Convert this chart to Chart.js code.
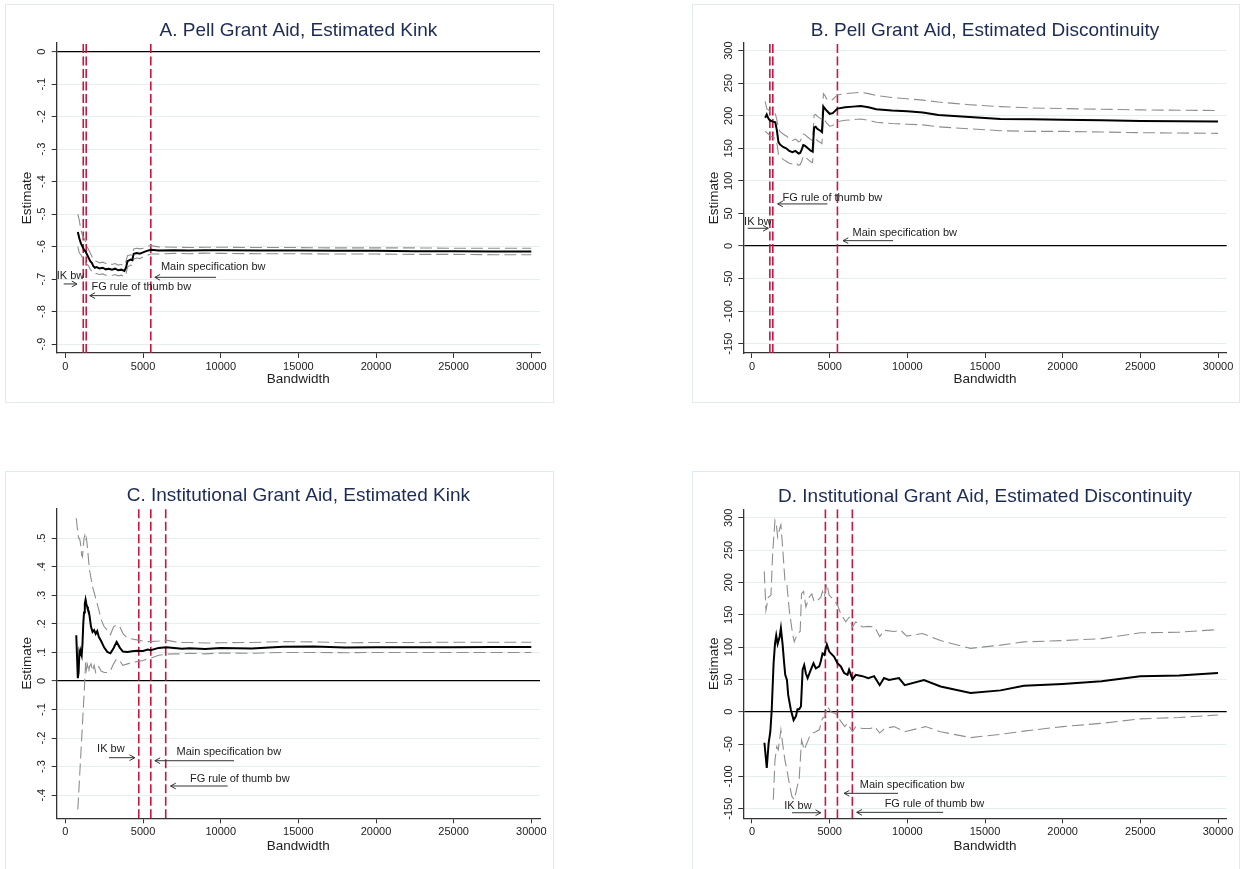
<!DOCTYPE html>
<html><head><meta charset="utf-8">
<script src="https://cdn.jsdelivr.net/npm/chart.js@4.4.1/dist/chart.umd.min.js"></script>
<style>
html,body{margin:0;padding:0;background:#fff;overflow:hidden;width:1242px;height:869px;}
.panel{position:absolute;box-sizing:border-box;border:1px solid #e2eaee;}
.panel canvas{position:absolute;left:-1px;top:-1px;}
</style></head><body>
<div class="panel" style="left:5px;top:4px;width:549px;height:399px"><canvas id="cA" width="549" height="399"></canvas></div>
<div class="panel" style="left:692px;top:4px;width:548px;height:399px"><canvas id="cB" width="548" height="399"></canvas></div>
<div class="panel" style="left:5px;top:471px;width:549px;height:399px"><canvas id="cC" width="549" height="399"></canvas></div>
<div class="panel" style="left:692px;top:471px;width:548px;height:399px"><canvas id="cD" width="548" height="399"></canvas></div>
<script>
// ---------- shared ----------
const xTicks = [0, 5000, 10000, 15000, 20000, 25000, 30000];
const noteLabels = ['IK bw', 'FG rule of thumb bw', 'Main specification bw'];

// ---------- Panel A: Pell Grant Aid, Estimated Kink ----------
const aTitle = 'A. Pell Grant Aid, Estimated Kink';
const aBw  = [800,900,1000,1100,1200,1300,1400,1500,1600,1700,1800,1900,2000,2200,2400,2600,2800,3000,3200,3400,3600,3800,3900,4000,4200,4300,4400,4600,4800,5000,5200,5500,6000,7000,8000,9000,10000,12500,15000,17500,20000,22500,25000,27500,30000];
const aEst = [-0.555,-0.575,-0.59,-0.6,-0.61,-0.615,-0.625,-0.635,-0.645,-0.65,-0.66,-0.665,-0.663,-0.667,-0.665,-0.67,-0.668,-0.671,-0.668,-0.673,-0.671,-0.675,-0.665,-0.645,-0.64,-0.642,-0.622,-0.62,-0.622,-0.618,-0.614,-0.61,-0.612,-0.611,-0.612,-0.611,-0.611,-0.612,-0.612,-0.613,-0.613,-0.614,-0.614,-0.615,-0.615];
const aHi  = [-0.5,-0.52,-0.55,-0.565,-0.575,-0.585,-0.6,-0.61,-0.62,-0.63,-0.64,-0.645,-0.645,-0.65,-0.648,-0.652,-0.65,-0.655,-0.652,-0.657,-0.655,-0.658,-0.645,-0.628,-0.625,-0.627,-0.607,-0.605,-0.607,-0.605,-0.6,-0.597,-0.601,-0.602,-0.603,-0.602,-0.602,-0.603,-0.603,-0.604,-0.604,-0.604,-0.605,-0.605,-0.605];
const aLo  = [-0.6,-0.62,-0.625,-0.635,-0.645,-0.648,-0.655,-0.66,-0.67,-0.675,-0.68,-0.685,-0.683,-0.686,-0.684,-0.688,-0.686,-0.689,-0.686,-0.69,-0.688,-0.693,-0.685,-0.663,-0.657,-0.659,-0.638,-0.635,-0.637,-0.632,-0.628,-0.623,-0.623,-0.621,-0.622,-0.62,-0.621,-0.622,-0.622,-0.623,-0.623,-0.624,-0.624,-0.625,-0.625];
const aLines = [1150, 1340, 5500];              // IK, FG, main bandwidths
const aYTicks = [0,-0.1,-0.2,-0.3,-0.4,-0.5,-0.6,-0.7,-0.8,-0.9];
const aYLabels = ['0','-.1','-.2','-.3','-.4','-.5','-.6','-.7','-.8','-.9'];
const aNoteText = [[-560,-0.691],[1680,-0.7235],[6150,-0.664]];
const aArrowFrom = [[-110,-0.715],[4210,-0.751],[9700,-0.6946]];
const aArrowTo   = [[750,-0.715],[1570,-0.751],[5760,-0.6946]];

// ---------- Panel B: Pell Grant Aid, Estimated Discontinuity ----------
const bTitle = 'B. Pell Grant Aid, Estimated Discontinuity';
const bBw  = [850,950,1050,1150,1250,1350,1500,1600,1700,1800,2000,2200,2400,2600,2800,3000,3100,3200,3300,3400,3600,3800,3900,4000,4100,4200,4400,4500,4600,4700,4800,5000,5200,5500,6000,6500,7000,7500,8000,9000,10000,11000,12000,14000,16000,18000,20000,22500,25000,27500,30000];
const bEst = [197,202,196,193,192,191,190,178,160,156,152,150,146,144,146,142,143,148,155,154,150,146,145,182,183,180,177,175,214,211,208,203,204,211,213,214,215,213,210,208,207,205,201,198,195,194.5,194,193,192,191.5,191];
const bHi  = [222,211,209,207,206,205,203,194,180,176,172,169,165,162,164,160,161,166,172,171,167,163,162,201,202,199,196,194,234,231,226,223,225,232,234,235,236,234,231,228,226,224,221,217,214,212,211,210,209,208.5,208];
const bLo  = [176,174,172,170,168,167,165,158,141,137,133,130,127,126,128,124,125,130,138,137,133,129,128,164,165,162,159,157,195,192,189,184,185,191,193,194,195,193,190,188,187,186,183,180,177,176,176,175,174,173.5,173];
const bLines = [1150, 1340, 5500];
const bYTicks = [300,250,200,150,100,50,0,-50,-100,-150];
const bYLabels = ['300','250','200','150','100','50','0','-50','-100','-150'];
const bNoteText = [[-510,37.4],[1970,73.4],[6470,19.5]];
const bArrowFrom = [[-280,27.2],[4860,64.6],[9080,8.2]];
const bArrowTo   = [[1050,27.2],[1650,64.6],[5860,8.2]];

// ---------- Panel C: Institutional Grant Aid, Estimated Kink ----------
const cTitle = 'C. Institutional Grant Aid, Estimated Kink';
const cBw  = [700,800,850,900,950,1000,1050,1100,1150,1200,1250,1300,1350,1400,1450,1500,1550,1650,1750,1850,1950,2050,2150,2300,2500,2700,2900,3100,3300,3500,3700,4000,4300,4600,5000,5300,5500,6000,6500,7000,7500,8000,9000,10000,12000,14000,16000,18000,20000,22500,25000,27500,30000];
const cEst = [0.16,0.01,0.03,0.1,0.09,0.1,0.09,0.13,0.2,0.24,0.27,0.285,0.27,0.26,0.25,0.245,0.23,0.19,0.172,0.178,0.165,0.175,0.155,0.14,0.117,0.102,0.097,0.115,0.137,0.117,0.103,0.102,0.104,0.106,0.105,0.11,0.108,0.116,0.118,0.116,0.113,0.115,0.112,0.116,0.114,0.12,0.121,0.117,0.118,0.118,0.118,0.119,0.119];
const cHi  = [0.57,0.52,0.5,0.5,0.49,0.47,0.44,0.435,0.47,0.5,0.51,0.49,0.5,0.48,0.45,0.42,0.39,0.36,0.33,0.31,0.29,0.27,0.25,0.215,0.19,0.178,0.162,0.19,0.196,0.19,0.167,0.15,0.147,0.144,0.14,0.138,0.138,0.14,0.143,0.138,0.135,0.135,0.133,0.134,0.135,0.138,0.137,0.134,0.135,0.135,0.136,0.136,0.136];
const cLo  = [null,-0.45,null,null,null,null,null,null,null,null,0.0,0.065,0.04,0.06,0.05,0.03,0.05,0.06,0.035,0.055,0.03,0.04,0.05,0.035,0.03,0.03,0.035,0.06,0.078,0.07,0.055,0.06,0.065,0.068,0.072,0.078,0.08,0.09,0.094,0.095,0.095,0.097,0.095,0.098,0.097,0.1,0.1,0.099,0.1,0.1,0.1,0.1,0.1];
const cLines = [4725, 5500, 6460];
const cYTicks = [0.5,0.4,0.3,0.2,0.1,0,-0.1,-0.2,-0.3,-0.4];
const cYLabels = ['.5','.4','.3','.2','.1','0','-.1','-.2','-.3','-.4'];
const cNoteText = [[2040,-0.2393],[8020,-0.3434],[7160,-0.2498]];
const cArrowFrom = [[2810,-0.2687],[10450,-0.3679],[10860,-0.2793]];
const cArrowTo   = [[4470,-0.2687],[6770,-0.3679],[5760,-0.2793]];

// ---------- Panel D: Institutional Grant Aid, Estimated Discontinuity ----------
const dTitle = 'D. Institutional Grant Aid, Estimated Discontinuity';
const dEstBw = [800,950,1070,1180,1270,1390,1480,1560,1650,1780,1860,1970,2070,2140,2250,2330,2500,2680,2830,2930,3040,3150,3260,3360,3470,3580,3790,3960,4110,4330,4430,4540,4650,4820,4970,5290,5500,5720,5930,6150,6250,6470,6680,7110,7490,7860,8220,8500,8820,9460,9830,11070,12140,14070,16000,17500,20000,22500,25000,27500,30000];
const dEst   = [-48,-87,-49,-31,3,75,105,118,105,116,129,104,75,57,49,26,3,-13,-7,4,4,8,65,72,59,52,65,75,67,70,78,90,88,104,93,85,75,70,60,57,65,50,57,55,52,55,41,52,49,52,41,49,39,29,33,40,43,47,55,56,60];
const dHiBw  = [790,900,1050,1220,1330,1480,1560,1650,1780,1860,1970,2120,2250,2400,2610,2720,2930,3100,3190,3320,3470,3680,3850,4000,4220,4430,4540,4650,4820,4970,5290,5500,5720,6040,6250,6470,6680,7110,7490,7900,8220,8500,9140,9570,9960,10970,12140,14070,16000,17500,20000,22500,25000,27500,30000];
const dHi    = [217,157,177,180,245,296,291,270,283,289,255,203,196,157,121,108,121,124,183,186,162,177,182,170,172,177,186,177,198,180,172,165,151,139,146,131,139,131,132,131,116,126,124,126,117,121,110,98,103,108,110,113,122,123,127];
const dLoBw  = [1370,1480,1590,1690,1860,1970,2120,2250,2400,2570,2720,2890,3040,3190,3360,3530,3750,3900,4110,4330,4540,4690,4860,5070,5390,5720,5970,6150,6470,6680,7110,7640,7900,8220,8540,9140,9830,11170,12140,14070,16000,17500,20000,22500,25000,27500,30000];
const dLo    = [-136,-75,-54,-59,-28,-49,-75,-90,-111,-131,-136,-118,-103,-44,-59,-49,-36,-33,-31,-28,-10,-8,8,0,-3,-15,-23,-18,-31,-23,-26,-26,-23,-33,-26,-23,-31,-23,-31,-40,-35,-30,-23,-18,-11,-9,-5];
const dLines = [4725, 5500, 6460];
const dYTicks = bYTicks;
const dYLabels = bYLabels;
const dNoteText = [[2070,-145.4],[8540,-142.7],[6940,-113.3]];
const dArrowFrom = [[2570,-156.2],[12310,-155.6],[9400,-126.2]];
const dArrowTo   = [[4430,-156.2],[6740,-155.6],[5930,-126.2]];

// ---------- drawing ----------
const FONT = '"Liberation Sans", Arial, Helvetica, sans-serif';
Chart.defaults.font.family = FONT;
const RED = '#c8163f', CI = '#8e8e8e', TXT = '#222', AX = '#333';

function pts(xs, ys) { return xs.map((x, i) => ({x: x, y: ys[i]})); }

function panel(id, P) {
  const cv = document.getElementById(id);
  const W = cv.width, H = cv.height;
  const ds = [];
  ds.push({data: pts(P.estX, P.est), borderColor: '#000', borderWidth: 2, pointRadius: 0, tension: 0, spanGaps: true, order: 0});
  ds.push({data: pts(P.hiX, P.hi), borderColor: CI, borderWidth: 1.1, borderDash: [12, 5], pointRadius: 0, tension: 0, spanGaps: true, order: 1});
  ds.push({data: pts(P.loX, P.lo), borderColor: CI, borderWidth: 1.1, borderDash: [12, 5], pointRadius: 0, tension: 0, spanGaps: true, order: 1});
  P.lines.forEach(v => ds.push({data: [{x: v, y: P.yMin}, {x: v, y: P.yMax}], borderColor: RED, borderWidth: 1.6, borderDash: [9, 3.5], pointRadius: 0, order: 2}));

  const txt = {
    id: 'txt' + id,
    afterDatasetsDraw(chart) {
      const ctx = chart.ctx, xs = chart.scales.x, ys = chart.scales.y;
      ctx.save();
      ctx.strokeStyle = AX; ctx.lineWidth = 1; ctx.fillStyle = TXT;
      ctx.font = '11px ' + FONT; ctx.textAlign = 'left'; ctx.textBaseline = 'middle';
      for (let i = 0; i < noteLabels.length; i++) {
        ctx.fillText(noteLabels[i], xs.getPixelForValue(P.noteText[i][0]), ys.getPixelForValue(P.noteText[i][1]));
        const x1 = xs.getPixelForValue(P.from[i][0]), y1 = ys.getPixelForValue(P.from[i][1]);
        const x2 = xs.getPixelForValue(P.to[i][0]), y2 = ys.getPixelForValue(P.to[i][1]);
        const a = Math.atan2(y2 - y1, x2 - x1), L = 6, w = 0.5;
        ctx.beginPath(); ctx.moveTo(x1, y1); ctx.lineTo(x2, y2);
        ctx.moveTo(x2 - L * Math.cos(a - w), y2 - L * Math.sin(a - w)); ctx.lineTo(x2, y2);
        ctx.lineTo(x2 - L * Math.cos(a + w), y2 - L * Math.sin(a + w));
        ctx.stroke();
      }
      ctx.restore();
    },
    afterDraw(chart) {
      const ctx = chart.ctx, ca = chart.chartArea, ys = chart.scales.y;
      ctx.save();
      ctx.fillStyle = '#1c2a56'; ctx.font = '19px ' + FONT; ctx.textAlign = 'center'; ctx.textBaseline = 'alphabetic';
      ctx.fillText(P.title, (ca.left + ca.right) / 2, ca.top - 7);
      ctx.fillStyle = TXT; ctx.font = '11px ' + FONT; ctx.textAlign = 'center'; ctx.textBaseline = 'middle';
      P.yTicks.forEach((v, i) => {
        ctx.save();
        ctx.translate(ca.left - 14.5, ys.getPixelForValue(v));
        ctx.rotate(-Math.PI / 2);
        ctx.fillText(P.yLabels[i], 0, 0);
        ctx.restore();
      });
      ctx.restore();
    }
  };

  new Chart(cv, {
    type: 'line',
    data: {datasets: ds},
    options: {
      responsive: false, animation: false, devicePixelRatio: 1,
      layout: {padding: {left: 0, right: W - P.right, top: P.top, bottom: 0}},
      plugins: {legend: {display: false}, tooltip: {enabled: false}, title: {display: false}},
      scales: {
        x: {
          type: 'linear', min: -560, max: 30560,
          afterBuildTicks: s => { s.ticks = xTicks.map(v => ({value: v})); },
          afterFit: s => { s.height = H - P.bottom; },
          ticks: {callback: v => String(v), font: {size: 11}, color: TXT, padding: 2, maxRotation: 0, minRotation: 0, autoSkip: false},
          grid: {display: true, drawOnChartArea: false, drawTicks: true, tickLength: 5, tickColor: AX, tickWidth: 1},
          border: {display: true, color: AX, width: 1.3},
          title: {display: true, text: 'Bandwidth', color: TXT, font: {size: 13.5}, padding: {top: 0, bottom: 15.5}}
        },
        y: {
          type: 'linear', min: P.yMin, max: P.yMax,
          afterBuildTicks: s => { s.ticks = P.yTicks.map(v => ({value: v})); },
          afterFit: s => { s.width = P.left; },
          ticks: {display: false},
          grid: {
            display: true, drawOnChartArea: true, drawTicks: true, tickLength: 5, tickColor: AX, tickWidth: 1,
            color: c => (c.tick && c.tick.value === 0) ? '#000' : '#e6eef0',
            lineWidth: c => (c.tick && c.tick.value === 0) ? 1.2 : 1
          },
          border: {display: true, color: AX, width: 1.3},
          title: {display: true, text: 'Estimate', color: TXT, font: {size: 13.5}, padding: {top: 14, bottom: 0}}
        }
      }
    },
    plugins: [txt]
  });
}

panel('cA', {title: aTitle, estX: aBw, est: aEst, hiX: aBw, hi: aHi, loX: aBw, lo: aLo, lines: aLines,
  yMin: -0.9276, yMax: 0.0268, yTicks: aYTicks, yLabels: aYLabels, noteText: aNoteText, from: aArrowFrom, to: aArrowTo,
  left: 51.7, right: 535, top: 39, bottom: 349});
panel('cB', {title: bTitle, estX: bBw, est: bEst, hiX: bBw, hi: bHi, loX: bBw, lo: bLo, lines: bLines,
  yMin: -164.3, yMax: 311.7, yTicks: bYTicks, yLabels: bYLabels, noteText: bNoteText, from: bArrowFrom, to: bArrowTo,
  left: 51.3, right: 534.7, top: 39, bottom: 349});
panel('cC', {title: cTitle, estX: cBw, est: cEst, hiX: cBw, hi: cHi, loX: cBw, lo: cLo, lines: cLines,
  yMin: -0.481, yMax: 0.605, yTicks: cYTicks, yLabels: cYLabels, noteText: cNoteText, from: cArrowFrom, to: cArrowTo,
  left: 51.7, right: 535, top: 37.3, bottom: 347.3});
panel('cD', {title: dTitle, estX: dEstBw, est: dEst, hiX: dHiBw, hi: dHi, loX: dLoBw, lo: dLo, lines: dLines,
  yMin: -164.8, yMax: 313, yTicks: dYTicks, yLabels: dYLabels, noteText: dNoteText, from: dArrowFrom, to: dArrowTo,
  left: 51.3, right: 534.7, top: 38.3, bottom: 347.3});
</script>
</body></html>
